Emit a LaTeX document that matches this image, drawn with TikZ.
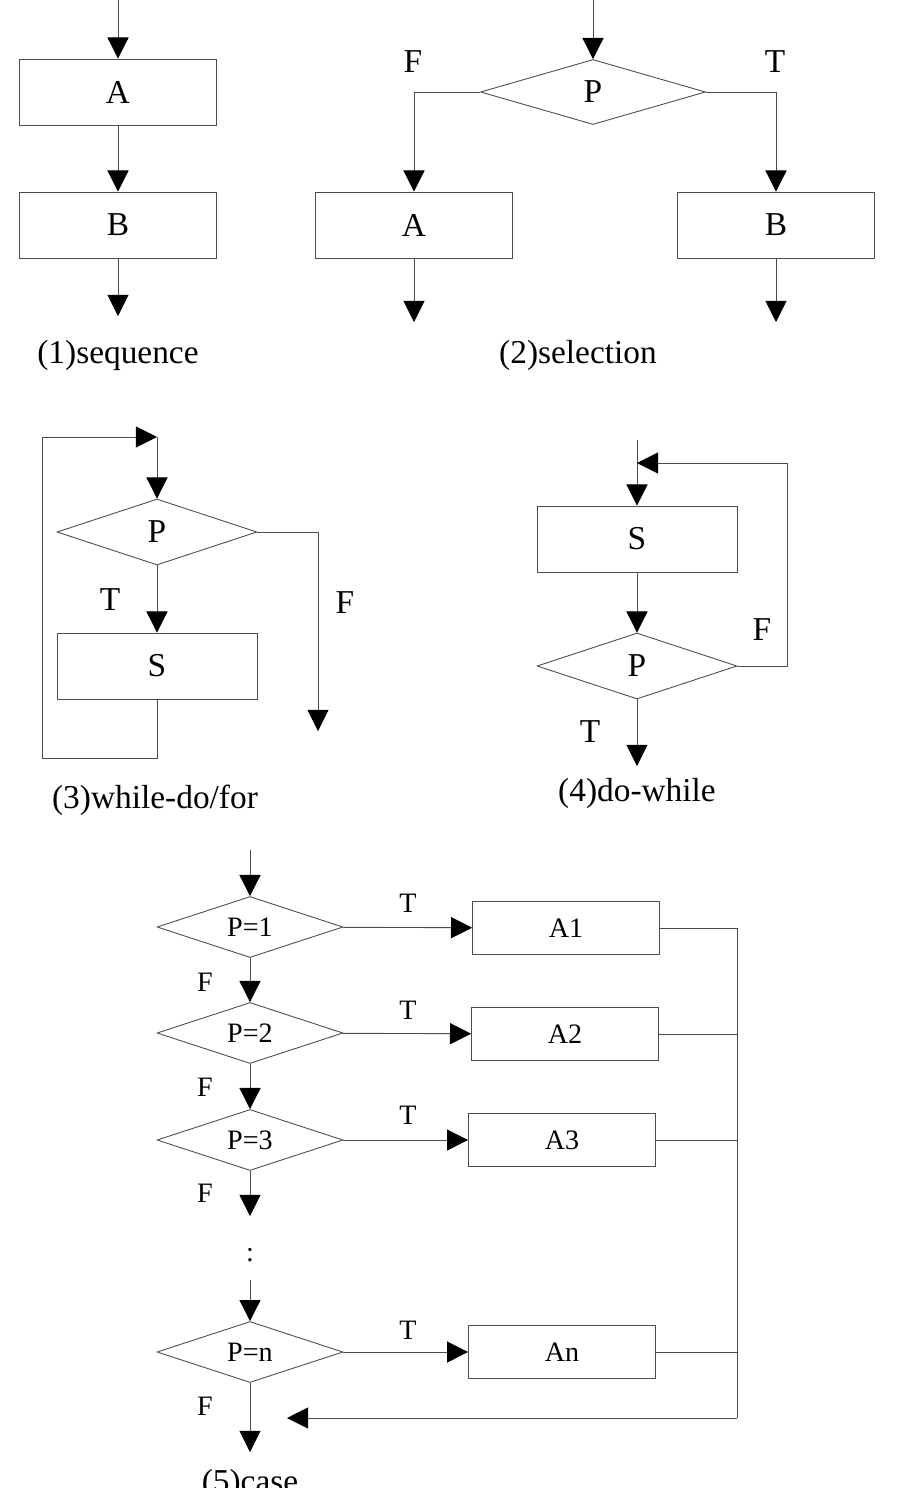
\documentclass[tikz,border=0pt]{standalone}
\usepackage{fontspec}
\setmainfont{Liberation Serif}
\usetikzlibrary{shapes.geometric,arrows.meta}
\begin{document}
\begin{tikzpicture}[x=0.02cm,y=-0.02cm,
  line width=0.5pt, draw=black!70,
  arr/.style={-{Triangle[length=12pt,width=12pt,color=black,fill=black]}},
  bx/.style={draw=black!70,minimum width=3.94cm,minimum height=1.32cm,inner sep=0pt,font=\fontsize{19}{19}\selectfont},
  dm/.style={draw=black!70,diamond,aspect=3.2,minimum width=4cm,minimum height=1.32cm,inner sep=0pt,font=\fontsize{19}{19}\selectfont},
  sbx/.style={draw=black!70,minimum width=3.74cm,minimum height=1.06cm,inner sep=0pt,font=\fontsize{16}{16}\selectfont},
  sdm/.style={draw=black!70,diamond,aspect=3,minimum width=3.72cm,minimum height=1.22cm,inner sep=0pt,font=\fontsize{16}{16}\selectfont},
  lb/.style={font=\fontsize{19}{19}\selectfont},
  slb/.style={font=\fontsize{16}{16}\selectfont}]
\useasboundingbox (0,0) rectangle (900,1488);
\clip (0,0) rectangle (900,1488);
% (1) sequence
\coordinate (s1) at (118,0);
\node[bx] (A1s) at (118,92) {A};
\node[bx] (B1s) at (118,225) {B};
\coordinate (e1) at (118,316);
\draw[arr] (s1) -- (A1s);
\draw[arr] (A1s) -- (B1s);
\draw[arr] (B1s) -- (e1);
\node[lb] (c1) at (118,355) {(1)sequence};
% (2) selection
\coordinate (s2) at (593,0);
\node[draw=black!70,diamond,aspect=3.5,minimum width=4.5cm,minimum height=1.3cm,inner sep=0pt,font=\fontsize{19}{19}\selectfont] (P2) at (593,92) {P};
\node[bx] (A2s) at (414,225) {A};
\node[bx] (B2s) at (776,225) {B};
\coordinate (ea) at (414,322);
\coordinate (eb) at (776,322);
\draw[arr] (s2) -- (P2);
\draw[arr] (P2.west) -| (A2s);
\draw[arr] (P2.east) -| (B2s);
\draw[arr] (A2s) -- (ea);
\draw[arr] (B2s) -- (eb);
\node[lb] (F2) at (413,62) {F};
\node[lb] (T2) at (775,62) {T};
\node[lb] (c2) at (578,355) {(2)selection};
% (3) while
\node[dm] (P3) at (157,532) {P};
\node[bx,minimum width=4cm] (S3) at (157,666) {S};
\coordinate (t3) at (157,437);
\coordinate (e3) at (318,731);
\draw[arr] (P3) -- (S3);
\draw[arr] (S3.south) -- (157,758) -- (42,758) -- (42,437) -- (t3);
\draw[arr] (t3) -- (P3);
\draw[arr] (P3.east) -| (e3);
\node[lb] (T3) at (110,600) {T};
\node[lb] (F3) at (345,603) {F};
\node[lb] (c3) at (155,800) {(3)while-do/for};
% (4) do-while
\coordinate (s4) at (637,440);
\node[bx,minimum width=4cm] (S4) at (637,539) {S};
\node[dm] (P4) at (637,666) {P};
\coordinate (t4) at (637,463);
\coordinate (e4) at (637,766);
\draw[arr] (s4) -- (S4);
\draw[arr] (S4) -- (P4);
\draw[arr] (P4) -- (e4);
\draw[arr] (P4.east) -- (787,666) -- (787,463) -- (t4);
\node[lb] (T4) at (590,732) {T};
\node[lb] (F4) at (762,630) {F};
\node[lb] (c4) at (637,793) {(4)do-while};
% (5) case
\coordinate (s5) at (250,850);
\node[sdm] (Q1) at (250,927) {P=1};
\node[sdm] (Q2) at (250,1033) {P=2};
\node[sdm] (Q3) at (250,1140) {P=3};
\node[sdm] (Qn) at (250,1352) {P=n};
\node[sbx] (X1) at (566,928) {A1};
\node[sbx] (X2) at (565,1034) {A2};
\node[sbx] (X3) at (562,1140) {A3};
\node[sbx] (Xn) at (562,1352) {An};
\coordinate (d3) at (250,1216);
\node[slb] (dots) at (250,1255) {:};
\coordinate (dn) at (250,1280);
\coordinate (e5) at (250,1452);
\coordinate (m5) at (287,1418);
\draw[arr] (s5) -- (Q1);
\draw[arr] (Q1) -- (Q2);
\draw[arr] (Q2) -- (Q3);
\draw[arr] (Q3) -- (d3);
\draw[arr] (dn) -- (Qn);
\draw[arr] (Qn) -- (e5);
\draw[arr] (Q1) -- (X1);
\draw[arr] (Q2) -- (X2);
\draw[arr] (Q3) -- (X3);
\draw[arr] (Qn) -- (Xn);
\draw (X1.east) -- (737,928) -- (737,1418);
\draw (X2.east) -- (737,1034);
\draw (X3.east) -- (737,1140);
\draw (Xn.east) -- (737,1352);
\draw[arr] (737,1418) -- (m5);
\foreach \y/\n in {903/a,1010/b,1115/c,1330/d} \node[slb] (T5\n) at (408,\y) {T};
\foreach \y/\n in {982/a,1087/b,1193/c,1406/d} \node[slb] (F5\n) at (205,\y) {F};
\node[lb] (c5) at (250,1484) {(5)case};
\end{tikzpicture}
\end{document}
